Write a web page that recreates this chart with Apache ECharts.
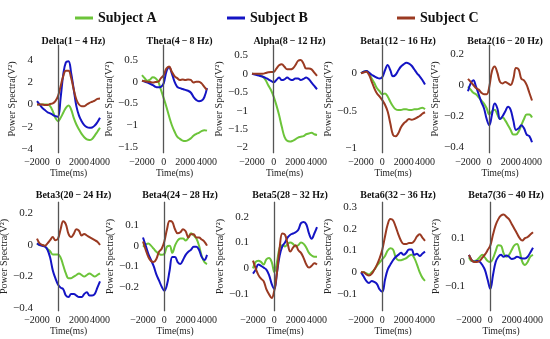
<!DOCTYPE html>
<html><head><meta charset="utf-8">
<script src="https://cdn.jsdelivr.net/npm/echarts@6/dist/echarts.min.js"></script>
<style>html,body{margin:0;padding:0;background:#fff}#c{width:550px;height:339px}</style>
</head><body><div id="c"></div>
<script>
// ---------- data ----------
const times = [-2000,-1750,-1500,-1250,-1000,-750,-500,-250,0,250,500,750,1000,1250,1500,1750,2000,2250,2500,2750,3000,3250,3500,3750,4000];
const subjectNames = ['Subject A','Subject B','Subject C'];
const bandTitles = ['Delta(1\u2009\u2212\u20094 Hz)','Theta(4\u2009\u2212\u20098 Hz)','Alpha(8\u2009\u2212\u200912 Hz)','Beta1(12\u2009\u2212\u200916 Hz)','Beta2(16\u2009\u2212\u200920 Hz)',
  'Beta3(20\u2009\u2212\u200924 Hz)','Beta4(24\u2009\u2212\u200928 Hz)','Beta5(28\u2009\u2212\u200932 Hz)','Beta6(32\u2009\u2212\u200936 Hz)','Beta7(36\u2009\u2212\u200940 Hz)'];
const xTickValues = [-2000,0,2000,4000];
const yTickValues = [
  [-4,-2,0,2,4],
  [-1.5,-1,-0.5,0,0.5],
  [-2,-1.5,-1,-0.5,0,0.5],
  [-1,-0.5,0],
  [-0.4,-0.2,0,0.2],
  [-0.4,-0.2,0,0.2],
  [-0.2,-0.1,0,0.1],
  [-0.1,0,0.1,0.2],
  [-0.1,0,0.1,0.2,0.3],
  [-0.1,0,0.1]
];

const deltaA = [0,0,0,0,0,-0.15,-0.6,-1.2,-1.5,-1.2,-0.75,-0.3,-0.1,-0.45,-1.2,-1.8,-2.25,-2.65,-2.95,-3.15,-3.2,-3.1,-2.8,-2.45,-2.1];
const deltaB = [0.3,0,-0.3,-0.5,-0.7,-0.8,-0.93,-1.05,-1.1,0.6,2.7,3.8,3.9,2.85,1.35,-0.15,-1.0,-1.5,-1.86,-2.04,-2.1,-2.07,-1.9,-1.6,-1.2];
const deltaC = [0,0,0,-0.05,-0.05,0.05,0.1,0.3,0.75,1.65,2.55,3.05,3.05,2.4,1.35,0.45,0,-0.15,-0.15,0,0.15,0.25,0.35,0.5,0.55];

const thetaA = [0.15,0.08,0.02,0.05,0.1,0.08,0,-0.19,-0.38,-0.58,-0.8,-1.0,-1.15,-1.27,-1.32,-1.36,-1.37,-1.35,-1.31,-1.25,-1.21,-1.18,-1.14,-1.12,-1.13];
const thetaB = [0.02,0,-0.02,-0.05,-0.08,-0.12,-0.13,-0.12,-0.04,0.23,0.33,0.19,0,-0.12,-0.15,-0.17,-0.19,-0.21,-0.25,-0.35,-0.42,-0.45,-0.44,-0.36,-0.15];
const thetaC = [0.02,0.01,0,-0.01,-0.02,-0.01,0,0.08,0.15,0.3,0.35,0.23,0.13,0.08,0.04,0.05,0.04,0.05,0.04,-0.02,0,0,-0.04,-0.12,-0.19];

const alphaA = [0,-0.01,-0.02,-0.04,-0.08,-0.17,-0.31,-0.44,-0.62,-0.85,-1.12,-1.44,-1.71,-1.82,-1.84,-1.82,-1.78,-1.73,-1.71,-1.69,-1.64,-1.62,-1.6,-1.64,-1.66];
const alphaB = [0,-0.02,-0.04,-0.06,-0.08,-0.11,-0.15,-0.19,-0.23,-0.17,-0.1,-0.17,-0.15,-0.1,-0.15,-0.17,-0.13,-0.13,-0.17,-0.14,-0.1,-0.15,-0.24,-0.33,-0.42];
const alphaC = [0,0,0,0,0,0.02,0.04,0.05,0.05,0.14,0.23,0.26,0.19,0.12,0.12,0.14,0.23,0.35,0.37,0.28,0.14,0.14,0.12,0.03,-0.06];

const beta1A = [0,0.02,0.03,0,-0.07,-0.13,-0.2,-0.24,-0.28,-0.27,-0.31,-0.38,-0.44,-0.48,-0.49,-0.49,-0.48,-0.48,-0.49,-0.49,-0.48,-0.48,-0.47,-0.46,-0.48];
const beta1B = [0,0.02,0.03,0.01,-0.02,-0.04,-0.06,-0.07,-0.05,0.04,0.11,0.04,-0.04,-0.02,0.04,0.09,0.12,0.14,0.13,0.1,0.05,0,-0.04,-0.09,-0.15];
const beta1C = [0,0.01,0.02,-0.02,-0.11,-0.2,-0.27,-0.31,-0.36,-0.42,-0.51,-0.67,-0.82,-0.84,-0.8,-0.72,-0.67,-0.64,-0.61,-0.62,-0.61,-0.59,-0.57,-0.54,-0.52];

const beta2A = [-0.01,-0.03,-0.05,-0.06,-0.08,-0.1,-0.12,-0.15,-0.19,-0.17,-0.16,-0.19,-0.22,-0.21,-0.23,-0.26,-0.29,-0.32,-0.32,-0.3,-0.26,-0.22,-0.19,-0.19,-0.21];
const beta2B = [-0.04,0.01,0.03,-0.01,-0.06,-0.11,-0.15,-0.22,-0.26,-0.19,-0.12,-0.15,-0.22,-0.2,-0.17,-0.14,-0.16,-0.23,-0.29,-0.28,-0.26,-0.28,-0.32,-0.33,-0.37];
const beta2C = [0.04,0.02,0,-0.02,-0.03,-0.05,-0.06,-0.06,-0.01,0.09,0.12,0.08,0.02,0.01,0.02,0.01,0,0.04,0.11,0.1,0.04,0.03,0,-0.05,-0.1];

const beta3A = [0.01,0,0,-0.01,-0.025,-0.04,-0.06,-0.06,-0.06,-0.08,-0.13,-0.18,-0.21,-0.21,-0.2,-0.19,-0.18,-0.19,-0.2,-0.19,-0.18,-0.19,-0.2,-0.19,-0.18];
const beta3B = [0.01,0,-0.005,-0.01,-0.03,-0.08,-0.16,-0.21,-0.25,-0.27,-0.28,-0.32,-0.33,-0.31,-0.31,-0.32,-0.33,-0.33,-0.31,-0.3,-0.32,-0.32,-0.31,-0.27,-0.23];
const beta3C = [0.04,0.01,0,-0.005,0.01,0.03,0.05,0.03,0.04,0.1,0.15,0.13,0.07,0.05,0.07,0.1,0.09,0.06,0.07,0.06,0.05,0.04,0.03,0.02,0];

const beta4A = [-0.005,0.005,0.01,0,-0.015,-0.03,-0.04,-0.045,-0.04,-0.005,0,-0.035,0,0.025,0.035,0.035,0.025,0.04,0.06,0.05,0.035,0,-0.05,-0.08,-0.09];
const beta4B = [0.04,0,-0.04,-0.07,-0.1,-0.14,-0.17,-0.2,-0.22,-0.19,-0.12,-0.055,-0.055,-0.08,-0.09,-0.07,-0.045,-0.03,-0.02,-0.005,-0.005,-0.02,-0.055,-0.07,-0.045];
const beta4C = [0.02,-0.02,-0.055,-0.075,-0.08,-0.065,-0.03,-0.015,0.02,0.08,0.12,0.115,0.08,0.06,0.065,0.08,0.07,0.04,0.055,0.055,0.04,0.04,0.03,0.02,0];

const beta5A = [0,0.025,0.03,0.025,0.015,0.035,0.04,0.025,-0.015,0.025,0.08,0.09,0.085,0.095,0.1,0.095,0.085,0.09,0.1,0.095,0.08,0.06,0.05,0.045,0.045];
const beta5B = [-0.02,-0.005,0.015,0.01,0.003,-0.005,-0.025,-0.06,-0.08,-0.015,0.05,0.085,0.1,0.12,0.13,0.135,0.14,0.15,0.175,0.18,0.17,0.135,0.115,0.135,0.16];
const beta5C = [0.03,0,-0.025,-0.04,-0.05,-0.08,-0.1,-0.115,-0.085,-0.015,0.08,0.135,0.13,0.095,0.065,0.08,0.09,0.07,0.06,0.04,0.015,0.003,0.01,0.02,0.015];

const beta6A = [0,0,-0.005,-0.01,0,0.012,0.03,0.045,0.06,0.075,0.1,0.11,0.105,0.07,0.055,0.055,0.06,0.065,0.075,0.08,0.065,0.035,0,-0.025,-0.04];
const beta6B = [0,-0.02,-0.04,-0.05,-0.04,-0.045,-0.055,-0.08,-0.09,-0.035,0.012,0.035,0.055,0.07,0.08,0.09,0.08,0.09,0.105,0.105,0.08,0.085,0.075,0.085,0.095];
const beta6C = [0,0,-0.01,-0.015,-0.008,0.012,0.035,0.065,0.105,0.165,0.22,0.245,0.24,0.21,0.175,0.145,0.13,0.13,0.135,0.135,0.145,0.165,0.175,0.16,0.145];

const beta7A = [0.02,0.004,0.004,0.008,0.02,0.03,0.018,0.004,0,0.015,0.046,0.07,0.068,0.036,0.022,0.03,0.05,0.07,0.075,0.046,0,-0.013,0,0.022,0.03];
const beta7B = [0.03,0.008,0.001,0.004,0.001,-0.013,-0.034,-0.075,-0.113,-0.055,0,0.022,0.03,0.022,0.027,0.022,0.013,0.015,0.022,0.018,0.015,0.015,0.022,0.04,0.06];
const beta7C = [0.03,0.008,0,0,0.005,0.018,0.032,0.05,0.07,0.115,0.155,0.18,0.195,0.2,0.19,0.18,0.16,0.14,0.12,0.1,0.09,0.1,0.105,0.115,0.125];

const panelSeries = [
  [deltaA,deltaB,deltaC],[thetaA,thetaB,thetaC],[alphaA,alphaB,alphaC],[beta1A,beta1B,beta1C],[beta2A,beta2B,beta2C],
  [beta3A,beta3B,beta3C],[beta4A,beta4B,beta4C],[beta5A,beta5B,beta5C],[beta6A,beta6B,beta6C],[beta7A,beta7B,beta7C]
];

// ---------- layout / style ----------
const layout = [
  {left:37, top:45, width:63, height:108, ymin:-4.37, ymax:5.36, gap:17},
  {left:142,top:45, width:65, height:108, ymin:-1.647,ymax:0.846,gap:19},
  {left:252,top:45, width:65, height:108, ymin:-2.149,ymax:0.78, gap:19},
  {left:361,top:45, width:64, height:108, ymin:-1.063,ymax:0.377,gap:21},
  {left:468,top:45, width:64, height:108, ymin:-0.439,ymax:0.258,gap:21},
  {left:37, top:202,width:63, height:109, ymin:-0.418,ymax:0.272,gap:23},
  {left:143,top:202,width:64, height:109, ymin:-0.319,ymax:0.213,gap:20},
  {left:253,top:202,width:64, height:109, ymin:-0.165,ymax:0.257,gap:18},
  {left:361,top:202,width:64, height:109, ymin:-0.179,ymax:0.324,gap:19},
  {left:469,top:202,width:64, height:109, ymin:-0.206,ymax:0.252,gap:19}
];
const colors = ['#6cc43a','#1414c4','#9a3a22'];
const FONT = "'Liberation Serif','Times New Roman',serif";
const fmt = v => String(v).replace('-', '\u2212');

const grid=[], xAxis=[], yAxis=[], series=[], title=[];
layout.forEach((L,i)=>{
  grid.push({left:L.left, top:L.top, width:L.width, height:L.height, containLabel:false, outerBoundsMode:'none'});
  xAxis.push({type:'value', gridIndex:i, min:-2000, max:4000, interval:2000,
    name:'Time(ms)', nameLocation:'middle', nameGap:15,
    nameTextStyle:{fontFamily:FONT, fontSize:9.5, color:'#222'},
    axisLine:{show:false}, axisTick:{show:false}, splitLine:{show:false},
    axisLabel:{fontFamily:FONT, fontSize:10, color:'#222', margin:4, hideOverlap:false,
      showMinLabel:true, showMaxLabel:true, customValues:xTickValues, formatter:fmt}});
  yAxis.push({type:'value', gridIndex:i, min:L.ymin, max:L.ymax,
    name:'Power Spectra(V\u00B2)', nameLocation:'middle', nameGap:L.gap,
    nameTextStyle:{fontFamily:FONT, fontSize:10, color:'#222'},
    axisLine:{show:true, lineStyle:{color:'#8a8a8a', width:1}}, axisTick:{show:false}, splitLine:{show:false},
    axisLabel:{fontFamily:FONT, fontSize:11, color:'#222', margin:4, customValues:yTickValues[i],
      showMinLabel:true, showMaxLabel:true, hideOverlap:false, formatter:fmt}});
  title.push({text:bandTitles[i], left:L.left+L.width/2, top:i<5?31:185, textAlign:'center',
    textStyle:{fontFamily:FONT, fontSize:10, fontWeight:'bold', color:'#111'}});
  panelSeries[i].forEach((vals,k)=>{
    const s = {type:'line', name:subjectNames[k], xAxisIndex:i, yAxisIndex:i,
      data: times.map((t,j)=>[t, vals[j]]), smooth:0.4, showSymbol:false, symbol:'none',
      lineStyle:{color:colors[k], width:2}, itemStyle:{color:colors[k]}, z:2+k, silent:true};
    if(k===0){
      s.markLine = {silent:true, symbol:'none', label:{show:false},
        lineStyle:{color:'#555', width:1.3, type:'solid'}, data:[{xAxis:0}], animation:false};
    }
    series.push(s);
  });
});

const legendPos = [70, 222, 392];
const legend = subjectNames.map((n,k)=>({
  data:[{name:n, icon:'rect'}], left:legendPos[k], top:6, itemWidth:18, itemHeight:3,
  selectedMode:false, textStyle:{fontFamily:FONT, fontSize:14, fontWeight:'bold', color:'#111'}
}));

const chart = echarts.init(document.getElementById('c'), null, {renderer:'canvas'});
chart.setOption({animation:false, backgroundColor:'#fff', title, legend, grid, xAxis, yAxis, series});
</script></body></html>
